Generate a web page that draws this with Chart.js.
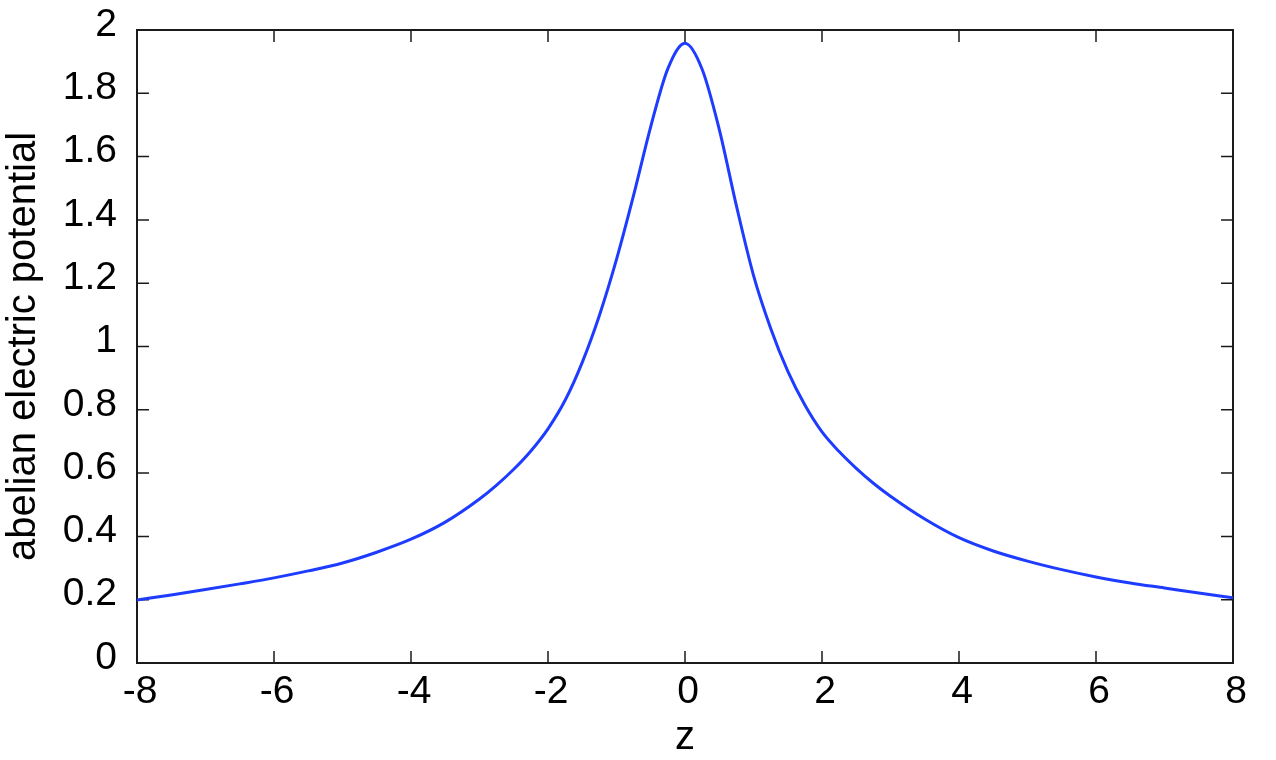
<!DOCTYPE html>
<html>
<head>
<meta charset="utf-8">
<script src="https://cdn.jsdelivr.net/npm/chart.js@4.4.1/dist/chart.umd.min.js"></script>
<style>
  html, body { margin: 0; padding: 0; background: #fff; }
  #wrap { width: 1276px; height: 760px; }
</style>
</head>
<body>
<div id="wrap"><canvas id="chart"></canvas></div>
<script>
// values
const zValues = [-8, -7.5, -7, -6.5, -6, -5.5, -5, -4.5, -4, -3.5,
                 -3, -2.75, -2.5, -2.25, -2, -1.75, -1.5, -1.25, -1, -0.75, -0.5, -0.25,
                 0, 0.25, 0.5, 0.75, 1, 1.25, 1.5, 1.75, 2, 2.25, 2.5, 2.75, 3,
                 3.5, 4, 4.5, 5, 5.5, 6, 6.5, 7, 7.5, 8];
const potential = [0.199, 0.215, 0.232, 0.250, 0.269, 0.291, 0.316, 0.350, 0.391, 0.445,
                   0.518, 0.562, 0.612, 0.670, 0.740, 0.830, 0.950, 1.098, 1.275, 1.478, 1.695, 1.878,
                   1.958, 1.876, 1.686, 1.445, 1.225, 1.058, 0.922, 0.815, 0.730, 0.668, 0.615, 0.568, 0.527,
                   0.455, 0.396, 0.354, 0.322, 0.295, 0.272, 0.253, 0.237, 0.221, 0.206];
const xTicks = [-8, -6, -4, -2, 0, 2, 4, 6, 8];
const yTicks = [0, 0.2, 0.4, 0.6, 0.8, 1, 1.2, 1.4, 1.6, 1.8, 2];

const FONT = '"Liberation Sans", Arial, Helvetica, sans-serif';
const INK = '#1a1a1a';

// box round the plot with inward tick marks on all four sides
const framePlugin = {
    id: 'frame',
    beforeDatasetsDraw(chart) {
        const {ctx, chartArea: a, scales} = chart;
        const len = 12;
        ctx.save();
        ctx.strokeStyle = INK;
        ctx.lineWidth = 1.5;
        ctx.beginPath();
        scales.x.ticks.forEach(t => {
            const px = scales.x.getPixelForValue(t.value);
            ctx.moveTo(px, a.bottom); ctx.lineTo(px, a.bottom - len);
            ctx.moveTo(px, a.top); ctx.lineTo(px, a.top + len);
        });
        scales.y.ticks.forEach(t => {
            const py = scales.y.getPixelForValue(t.value);
            ctx.moveTo(a.left, py); ctx.lineTo(a.left + len, py);
            ctx.moveTo(a.right, py); ctx.lineTo(a.right - len, py);
        });
        ctx.stroke();
        ctx.lineWidth = 2;
        ctx.strokeRect(a.left, a.top, a.right - a.left, a.bottom - a.top);
        ctx.restore();
    }
};

new Chart(document.getElementById('chart'), {
    type: 'line',
    data: {
        datasets: [{
            data: zValues.map((z, i) => ({x: z, y: potential[i]})),
            borderColor: 'rgb(30, 60, 255)',
            borderWidth: 3,
            pointRadius: 0,
            cubicInterpolationMode: 'monotone',
            fill: false,
        }]
    },
    options: {
        responsive: true,
        maintainAspectRatio: false,
        animation: false,
        layout: { padding: { top: 30, right: 43, left: 0, bottom: 0 } },
        plugins: { legend: { display: false }, tooltip: { enabled: false } },
        scales: {
            x: {
                type: 'linear',
                min: -8, max: 8,
                afterBuildTicks: s => { s.ticks = xTicks.map(v => ({value: v})); },
                afterFit: s => { s.height = 97; },
                grid: { display: false, drawTicks: false },
                border: { display: false },
                ticks: {
                    padding: 6,
                    labelOffset: 3,
                    color: '#000',
                    font: { family: FONT, size: 39 },
                    callback: v => String(v),
                },
                title: {
                    display: true,
                    text: 'z',
                    color: '#000',
                    padding: 0,
                    font: { family: FONT, size: 40, lineHeight: 1.1 },
                },
            },
            y: {
                type: 'linear',
                min: 0, max: 2,
                afterBuildTicks: s => { s.ticks = yTicks.map(v => ({value: v})); },
                afterFit: s => { s.width = 137; s.paddingTop = 0; s.paddingBottom = 0; },
                grid: { display: false, drawTicks: false },
                border: { display: false },
                ticks: {
                    padding: 20,
                    labelOffset: -5,
                    color: '#000',
                    font: { family: FONT, size: 39 },
                    callback: v => String(v),
                },
                title: {
                    display: true,
                    text: 'abelian electric potential',
                    color: '#000',
                    padding: 0,
                    font: { family: FONT, size: 40 },
                },
            },
        },
    },
    plugins: [framePlugin],
});
</script>
</body>
</html>
